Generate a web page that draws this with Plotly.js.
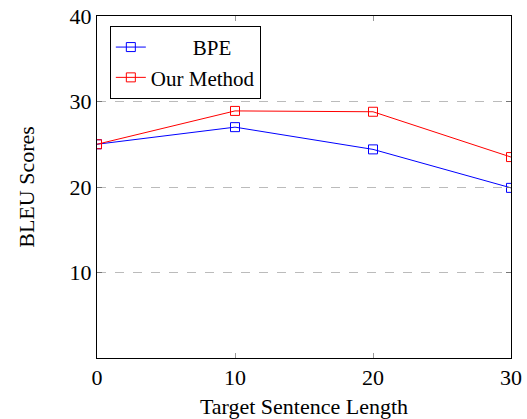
<!DOCTYPE html>
<html>
<head>
<meta charset="utf-8">
<script src="https://cdn.plot.ly/plotly-3.0.1.min.js"></script>
<style>html,body{margin:0;padding:0;background:#fff;}#chart{width:527px;height:419px;}</style>
</head>
<body>
<div id="chart"></div>
<script>
const lengths = [0, 10, 20, 30];
const bpeScores = [25.0, 27.0, 24.4, 19.9];
const ourScores = [25.0, 28.9, 28.8, 23.5];
const seriesNames = ["BPE", "Our Method"];
const yTicks = [10, 20, 30, 40];
const xTicks = [0, 10, 20, 30];

const font = "Liberation Serif, Times New Roman, serif";
const fs = 22;

const traces = [
  {x: lengths, y: bpeScores, name: "\u2002\u2002\u2002\u2002" + seriesNames[0], mode: "lines+markers",
   line: {color: "#0000ff", width: 1},
   marker: {symbol: "square-open", size: 9, color: "#0000ff", line: {width: 1}}},
  {x: lengths, y: ourScores, name: seriesNames[1], mode: "lines+markers",
   line: {color: "#ff0000", width: 1},
   marker: {symbol: "square-open", size: 9, color: "#ff0000", line: {width: 1}}}
];

const layout = {
  width: 527, height: 419,
  margin: {l: 97, r: 16, t: 16, b: 61},
  paper_bgcolor: "#fff", plot_bgcolor: "#fff",
  font: {family: font, size: fs, color: "#000"},
  showlegend: true,
  legend: {x: 0.031, y: 0.971, xanchor: "left", yanchor: "top",
           bordercolor: "#000", borderwidth: 1, bgcolor: "#fff",
           font: {family: font, size: 21}, tracegroupgap: 0, itemwidth: 30},
  xaxis: {range: [0, 30], tickvals: xTicks, ticks: "inside", ticklen: 5,
          tickcolor: "#999", showgrid: false, zeroline: false,
          showline: true, linecolor: "#000", linewidth: 1, mirror: "ticks",
          tickfont: {family: font, size: fs},
          title: {text: "Target Sentence Length", font: {family: font, size: fs}, standoff: 9}},
  yaxis: {range: [0, 40], tickvals: yTicks, ticks: "inside", ticklen: 5,
          tickcolor: "#777", showgrid: true, gridcolor: "#bbb", griddash: "dash",
          gridwidth: 1, zeroline: false,
          showline: true, linecolor: "#000", linewidth: 1, mirror: "ticks",
          tickfont: {family: font, size: fs},
          title: {text: "BLEU Scores", font: {family: font, size: fs}, standoff: 28}}
};

Plotly.newPlot("chart", traces, layout, {displayModeBar: false, staticPlot: true});
</script>
</body>
</html>
